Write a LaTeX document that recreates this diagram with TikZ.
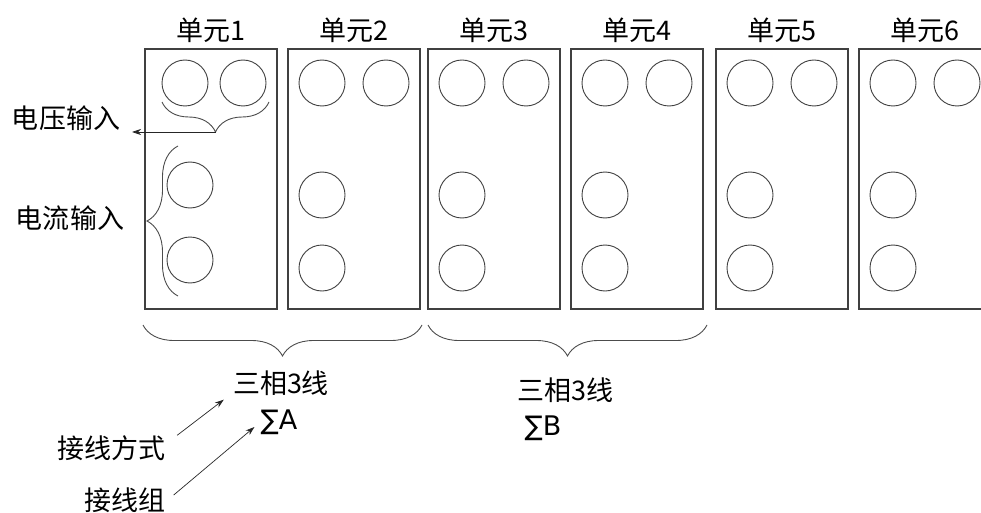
\documentclass[tikz,border=0pt]{standalone}
\usepackage{fontspec}
\setmainfont{Noto Sans CJK SC}
\newfontfamily\sumfont{DejaVu Sans}
\usetikzlibrary{arrows.meta,decorations.pathreplacing}

\begin{document}
\begin{tikzpicture}[x=1pt,y=-1pt,
  unitbox/.style={draw=black!75,line width=1.1pt,minimum width=132pt,minimum height=260pt,inner sep=0pt},
  port/.style={circle,draw=black!75,line width=0.9pt,minimum size=46pt,inner sep=0pt},
  grpbrace/.style={decorate,decoration={brace,amplitude=30pt},draw=black!70,line width=0.9pt},
  ptr/.style={-{Stealth[length=9pt,width=6pt]},line width=0.7pt,draw=black!85},
  lbl/.style={font=\fontsize{27}{30}\selectfont,inner sep=0pt}]
\useasboundingbox (0,0) rectangle (981,513);
% units and their titles
\foreach \i/\l in {1/145,2/288,3/428,4/571,5/716,6/859} {
  \node[unitbox] (u\i) at (\l+66,179) {};
  \node[lbl] (t\i) at (\l+66,30) {单元\i};
}
% terminals
\node[port] (p1-1) at (185,83) {};
\node[port] (p1-2) at (243,83) {};
\node[port] (p1-3) at (190,185) {};
\node[port] (p1-4) at (190,260) {};
\foreach \i/\l in {2/288,3/428,4/571,5/716,6/859} {
  \node[port] (p\i-1) at (\l+34,83) {};
  \node[port] (p\i-2) at (\l+98,83) {};
  \node[port] (p\i-3) at (\l+34,195) {};
  \node[port] (p\i-4) at (\l+34,268) {};
}
% inputs of unit 1
\draw[grpbrace] (269,102) -- (162,102);
\draw[grpbrace,decoration={amplitude=31pt}] (178,296) -- (178,146);
\coordinate (vtip) at (215.5,132);
\coordinate (vend) at (132,132);
\node[lbl] (vin) at (66,118) {电压输入};
\node[lbl] (cin) at (70,218) {电流输入};
\draw[ptr] (vtip) -- (vend);
% wiring groups
\draw[grpbrace,decoration={amplitude=31pt}] (422,325) -- (143,325);
\draw[grpbrace,decoration={amplitude=31pt}] (707,325) -- (428,325);
\node[lbl] (sx1) at (281,383) {三相3线};
\node[lbl] (sum1) at (279,422) {\sumfont ∑A};
\node[lbl] (sx2) at (565,390) {三相3线};
\node[lbl] (sum2) at (543,428) {\sumfont ∑B};
\node[lbl] (fs) at (111,448) {接线方式};
\node[lbl] (jz) at (125,500) {接线组};
\draw[ptr] ([shift={(12,0)}]fs.north east) -- ([shift={(-9,4)}]sx1.south west);
\draw[ptr] ([shift={(8,-5)}]jz.east) -- ([shift={(-6,5)}]sum1.west);
\end{tikzpicture}
\end{document}
